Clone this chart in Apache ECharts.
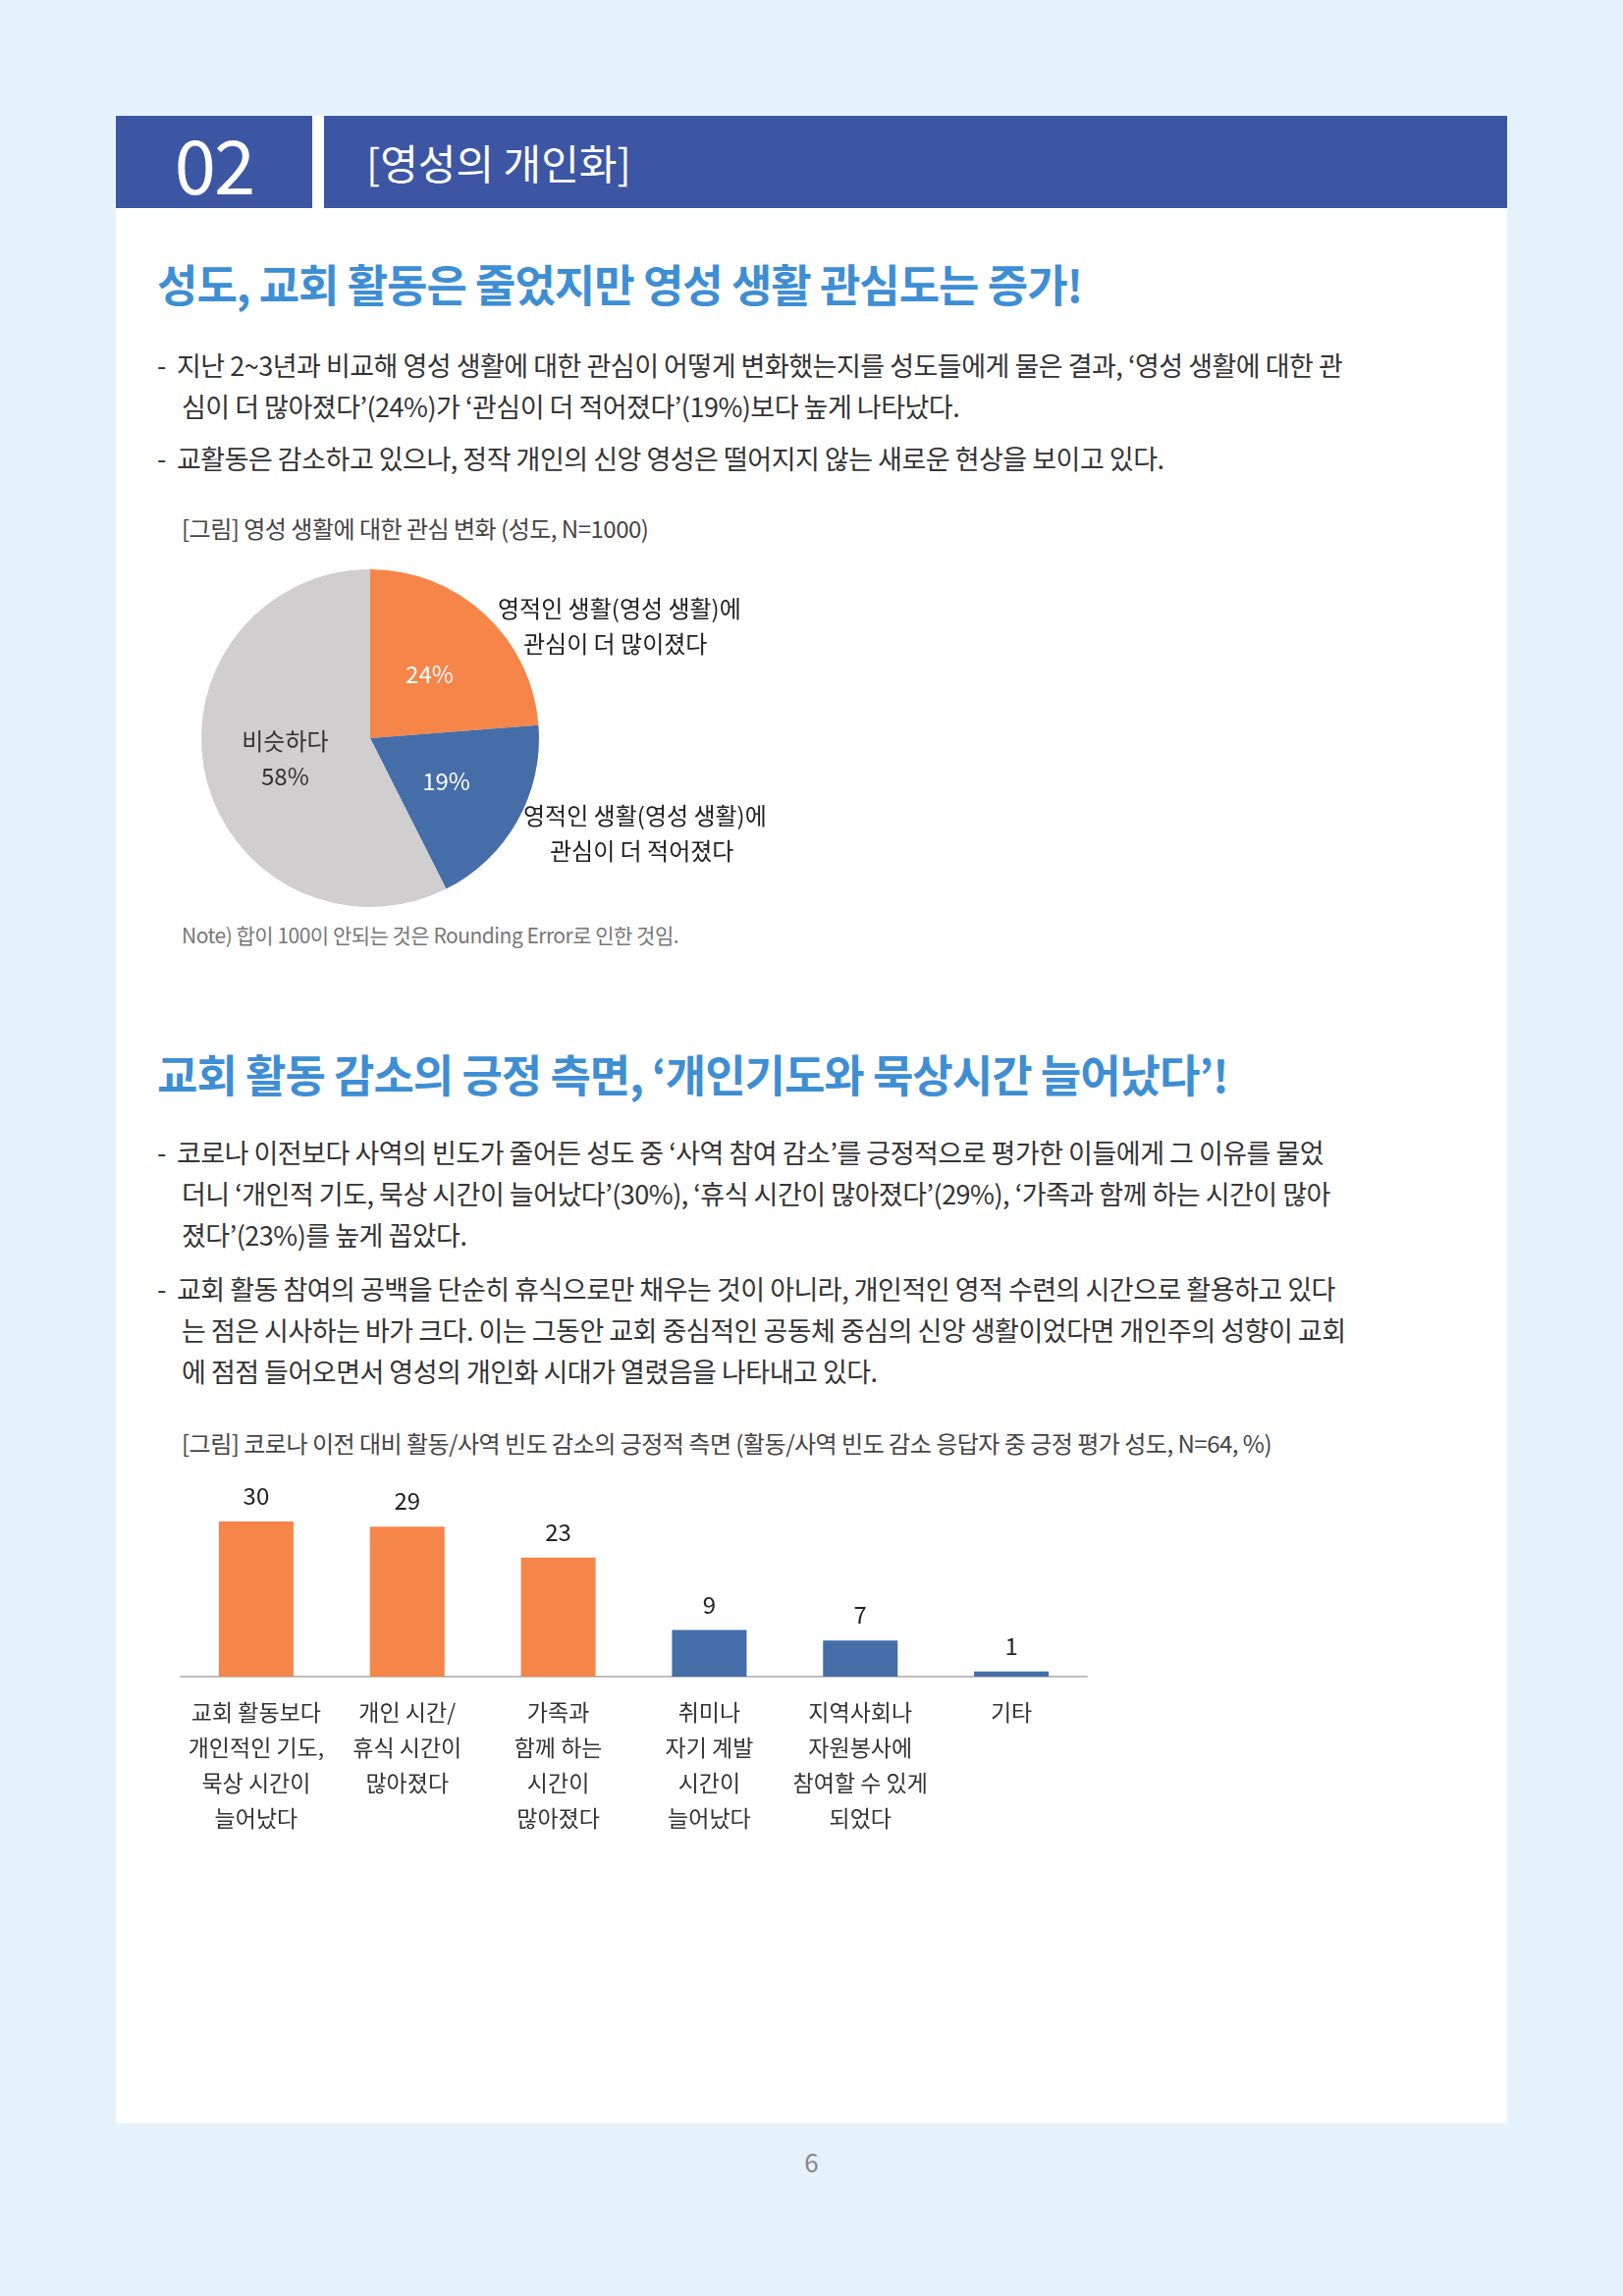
<!DOCTYPE html>
<html><head><meta charset="utf-8">
<script src="https://cdn.jsdelivr.net/npm/echarts@6/dist/echarts.min.js"></script>
<style>
body{margin:0;width:1653px;height:2339px;background:#E6F2FB;position:relative;font-family:"Noto Sans CJK KR","Noto Sans",sans-serif;color:#333;overflow:hidden}
.panel{position:absolute;left:118px;top:118px;width:1417px;height:2045px;background:#fff}
.hb{position:absolute;top:118px;height:94px;background:#3C56A4;color:#fff}
.h2{position:absolute;left:160px;font-size:45px;font-weight:bold;color:#3E8ED4;letter-spacing:-1px}
.bl{position:absolute;left:160px;width:1340px;font-size:27px;line-height:42px;color:#333;padding-left:25px;text-indent:-25px;letter-spacing:-0.5px}
.cap{position:absolute;left:185px;font-size:24px;color:#444;letter-spacing:-0.5px}
#c{position:absolute;left:0;top:0;width:1653px;height:2339px}
</style></head><body>
<div class="panel"></div>
<div class="hb" style="left:118px;width:200px;font-size:76px;line-height:94px;text-align:center;letter-spacing:-2px">02</div>
<div class="hb" style="left:330px;width:1205px;font-size:42px;line-height:94px;padding-left:43px;box-sizing:border-box">[영성의 개인화]</div>
<div class="h2" style="top:256px">성도, 교회 활동은 줄었지만 영성 생활 관심도는 증가!</div>
<div class="bl" style="top:351px">-&nbsp;&nbsp;지난 2~3년과 비교해 영성 생활에 대한 관심이 어떻게 변화했는지를 성도들에게 물은 결과, ‘영성 생활에 대한 관<br>심이 더 많아졌다’(24%)가 ‘관심이 더 적어졌다’(19%)보다 높게 나타났다.</div>
<div class="bl" style="top:446px">-&nbsp;&nbsp;교활동은 감소하고 있으나, 정작 개인의 신앙 영성은 떨어지지 않는 새로운 현상을 보이고 있다.</div>
<div class="cap" style="top:520px">[그림] 영성 생활에 대한 관심 변화 (성도, N=1000)</div>
<div class="cap" style="top:937px;font-size:21px;color:#777">Note) 합이 100이 안되는 것은 Rounding Error로 인한 것임.</div>
<div class="h2" style="top:1061px">교회 활동 감소의 긍정 측면, ‘개인기도와 묵상시간 늘어났다’!</div>
<div class="bl" style="top:1153px">-&nbsp;&nbsp;코로나 이전보다 사역의 빈도가 줄어든 성도 중 ‘사역 참여 감소’를 긍정적으로 평가한 이들에게 그 이유를 물었<br>더니 ‘개인적 기도, 묵상 시간이 늘어났다’(30%), ‘휴식 시간이 많아졌다’(29%), ‘가족과 함께 하는 시간이 많아<br>졌다’(23%)를 높게 꼽았다.</div>
<div class="bl" style="top:1292px">-&nbsp;&nbsp;교회 활동 참여의 공백을 단순히 휴식으로만 채우는 것이 아니라, 개인적인 영적 수련의 시간으로 활용하고 있다<br>는 점은 시사하는 바가 크다. 이는 그동안 교회 중심적인 공동체 중심의 신앙 생활이었다면 개인주의 성향이 교회<br>에 점점 들어오면서 영성의 개인화 시대가 열렸음을 나타내고 있다.</div>
<div class="cap" style="top:1452px">[그림] 코로나 이전 대비 활동/사역 빈도 감소의 긍정적 측면 (활동/사역 빈도 감소 응답자 중 긍정 평가 성도, N=64, %)</div>
<div style="position:absolute;left:0;width:1653px;top:2183px;text-align:center;font-size:26px;color:#888">6</div>
<div id="c"></div>
<script>
const pieNames=['영적인 생활(영성 생활)에 관심이 더 많이졌다','영적인 생활(영성 생활)에 관심이 더 적어졌다','비슷하다'];
const pieValues=[24,19,58];
const pieColors=['#F58549','#456DA8','#D0CECE'];
const barCategories=['교회 활동보다\n개인적인 기도,\n묵상 시간이\n늘어났다','개인 시간/\n휴식 시간이\n많아졌다','가족과\n함께 하는\n시간이\n많아졌다','취미나\n자기 계발\n시간이\n늘어났다','지역사회나\n자원봉사에\n참여할 수 있게\n되었다','기타'];
const barValues=[30,29,23,9,7,1];
const barColors=['#F58549','#F58549','#F58549','#456DA8','#456DA8','#456DA8'];
const ch=echarts.init(document.getElementById('c'));
const ff='"Noto Sans CJK KR","Noto Sans",sans-serif';
ch.setOption({
 textStyle:{fontFamily:ff},
 grid:{left:184,width:923,top:1550,height:158},
 xAxis:{type:'category',data:barCategories,axisLine:{lineStyle:{color:'#BFBFBF',width:2}},axisTick:{show:false},
  axisLabel:{color:'#333',fontSize:23,lineHeight:36,margin:18,interval:0}},
 yAxis:{type:'value',min:0,max:30,show:false,splitLine:{show:false}},
 series:[
  {type:'pie',center:[377,752],radius:172,startAngle:90,clockwise:true,silent:true,
   data:pieNames.map((n,i)=>({name:n,value:pieValues[i],itemStyle:{color:pieColors[i]},
     label:{color:i==2?'#333':'#fff'}})),
   label:{position:'inside',fontSize:24,lineHeight:36,
     formatter:p=>p.dataIndex==2?'비슷하다\n'+p.value+'%':p.value+'%'},
   labelLine:{show:false}},
  {type:'bar',data:barValues.map((v,i)=>({value:v,itemStyle:{color:barColors[i]}})),barWidth:76,
   label:{show:true,position:'top',fontSize:24,color:'#222',distance:14}}
 ],
 graphic:[
  {type:'text',left:507,top:608,style:{text:'영적인 생활(영성 생활)에',fontSize:24,fill:'#222',fontFamily:ff}},
  {type:'text',left:533,top:644,style:{text:'관심이 더 많이졌다',fontSize:24,fill:'#222',fontFamily:ff}},
  {type:'text',left:533,top:819,style:{text:'영적인 생활(영성 생활)에',fontSize:24,fill:'#222',fontFamily:ff}},
  {type:'text',left:560,top:855,style:{text:'관심이 더 적어졌다',fontSize:24,fill:'#222',fontFamily:ff}}
 ]
});
</script>
</body></html>
